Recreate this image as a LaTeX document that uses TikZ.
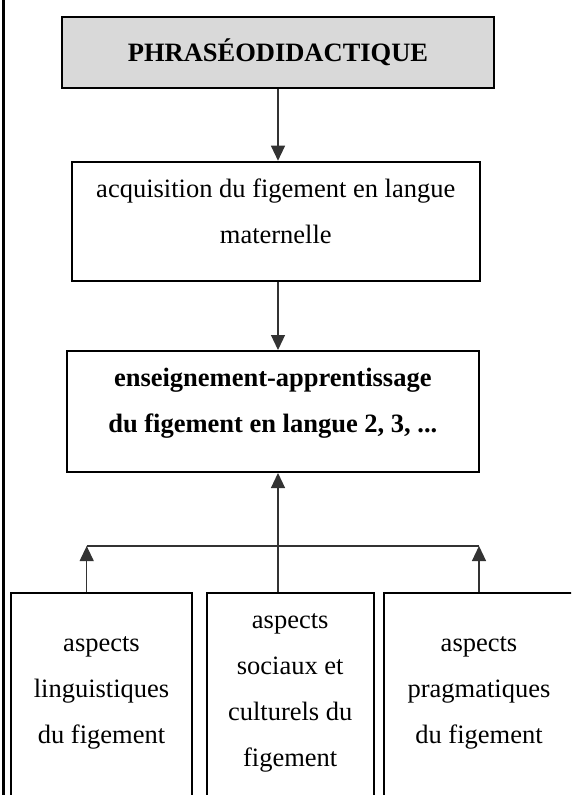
\documentclass[tikz,border=0pt]{standalone}
\usepackage{fontspec}
\setmainfont{Liberation Serif}
\usetikzlibrary{arrows.meta}
\colorlet{boxgray}{black!15}
\tikzset{>={Triangle[length=15pt,width=14pt]}}
\tikzset{
  box/.style = {
    draw, line width=2pt, inner sep=0pt, align=flush center,
    font=\fontsize{26.5}{46}\selectfont
  },
  boldbox/.style = {box, font=\fontsize{26.5}{46}\selectfont\bfseries},
  link/.style = {line width=1.2pt, black!80}
}

\begin{document}
\begin{tikzpicture}[x=1pt,y=-1pt]
  \useasboundingbox (0,0) rectangle (571,795);
  \clip (0,0) rectangle (571,795);
  % left rule
  \draw[line width=2.5pt] (3.5,0) -- (3.5,795);
  % main chain
  \node[boldbox, fill=boxgray, minimum width=432pt, minimum height=71pt]
    (top) at (278,52.5) {PHRASÉODIDACTIQUE};
  \node[box, minimum width=408pt, minimum height=119pt, text width=400pt,
    text height=20pt, text depth=68pt]
    (acq) at (275.8,221.2) {acquisition du figement en langue\\maternelle};
  \node[boldbox, minimum width=412pt, minimum height=121pt, text width=404pt,
    text height=20pt, text depth=70pt]
    (ens) at (272.8,411.5) {enseignement-apprentissage\\du figement en langue 2, 3, ...};
  % aspects
  \node[box, minimum width=181pt, minimum height=240pt, text width=175pt,
    text height=20pt, text depth=142.6pt]
    (ling) at (101.5,713) {aspects\\linguistiques\\du figement};
  \node[box, minimum width=167pt, minimum height=240pt, text width=160pt,
    text height=20pt, text depth=190pt]
    (soc) at (290.2,713) {aspects\\sociaux et\\culturels du\\figement};
  \node[box, minimum width=190pt, minimum height=240pt, text width=184pt,
    text height=20pt, text depth=142.6pt]
    (prag) at (479,713) {aspects\\pragmatiques\\du figement};
  % connectors
  \draw[link,->] (top.south) -- (acq.north -| top.south);
  \draw[link,->] (acq.south -| top.south) -- (ens.north -| top.south);
  \draw[link,->] (soc.north -| top.south) -- (ens.south -| top.south);
  \coordinate (lhub) at (86.7,546);
  \coordinate (rhub) at (prag.north |- lhub);
  \draw[link] (lhub) -- (rhub);
  \draw[link,->] (ling.north -| lhub) -- (lhub);
  \draw[link,->] (prag.north) -- (rhub);
\end{tikzpicture}
\end{document}
